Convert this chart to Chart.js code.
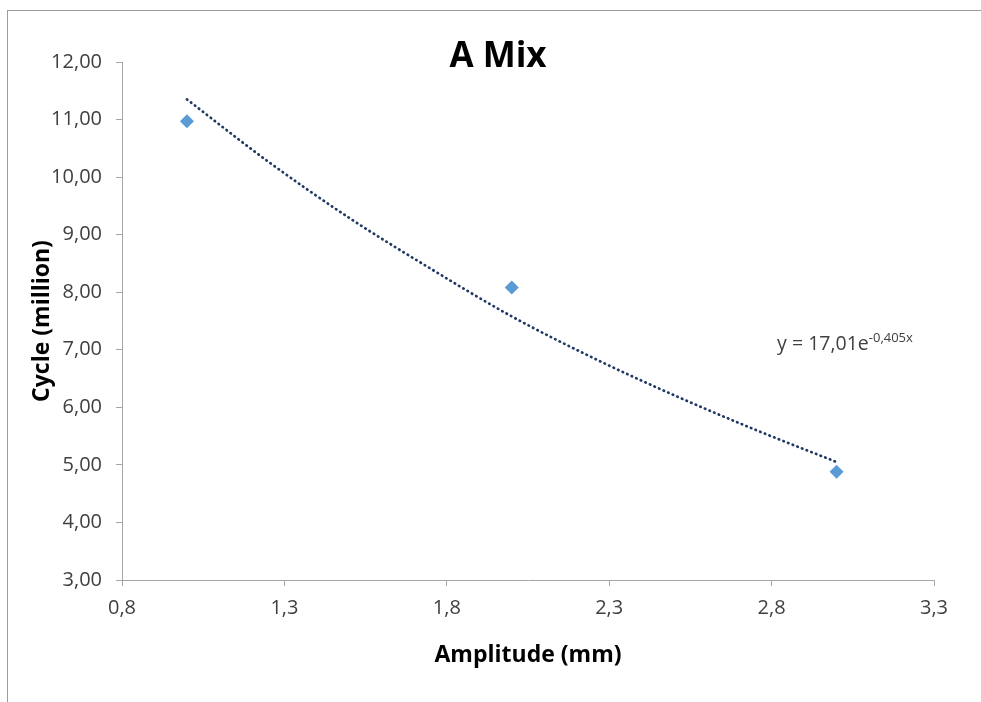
<!DOCTYPE html>
<html>
<head>
<meta charset="utf-8">
<script src="https://cdn.jsdelivr.net/npm/chart.js@4.4.1/dist/chart.umd.min.js"></script>
<style>
  html, body { margin: 0; padding: 0; background: #fff; }
  body { width: 981px; height: 702px; overflow: hidden; position: relative; }
  #frame {
    position: absolute; left: 7px; top: 10px; width: 974px; height: 692px;
    border-left: 1px solid #9c9c9c; border-top: 1px solid #9c9c9c;
  }
  #wrap { position: absolute; left: 0; top: 0; width: 973px; height: 691px; }
</style>
</head>
<body>
<div id="frame"><div id="wrap"><canvas id="chart"></canvas></div></div>
<script>
// measured points
const amplitude = [1, 2, 3];
const cycles = [10.97, 8.08, 4.88];

// exponential trendline
const trendX = [1.0, 1.25, 1.5, 1.75, 2.0, 2.25, 2.5, 2.75, 3.0];
const trendY = [11.35, 10.27, 9.29, 8.41, 7.58, 6.86, 6.21, 5.61, 5.05];

const xTicks = [0.8, 1.3, 1.8, 2.3, 2.8, 3.3];
const yTicks = [3, 4, 5, 6, 7, 8, 9, 10, 11, 12];

const chartTitle = 'A Mix';
const xTitle = 'Amplitude (mm)';
const yTitle = 'Cycle (million)';
const eqMain = 'y = 17,01e';
const eqSup = '-0,405x';

const FONT = '"Open Sans", sans-serif';
const axisColor = '#a6a6a6';
const textColor = '#404040';

const comma = (v, d) => v.toFixed(d).replace('.', ',');

const overlay = {
  id: 'overlay',
  afterDraw(chart) {
    const { ctx, scales } = chart;
    ctx.save();
    // chart title
    ctx.fillStyle = '#000';
    ctx.font = 'bold 35px ' + FONT;
    ctx.textAlign = 'center';
    ctx.textBaseline = 'alphabetic';
    ctx.fillText(chartTitle, 490, 56);
    // trendline equation
    const ex = scales.x.getPixelForValue(2.817);
    const ey = scales.y.getPixelForValue(7.0);
    ctx.fillStyle = '#404040';
    ctx.textAlign = 'left';
    ctx.font = '19.5px ' + FONT;
    ctx.fillText(eqMain, ex, ey);
    const w = ctx.measureText(eqMain).width;
    ctx.font = '13px ' + FONT;
    ctx.fillText(eqSup, ex + w, ey - 8);
    ctx.restore();
  }
};

new Chart(document.getElementById('chart'), {
  type: 'scatter',
  data: {
    datasets: [
      {
        label: 'Trend',
        data: trendX.map((x, i) => ({ x: x, y: trendY[i] })),
        showLine: true,
        borderColor: '#203864',
        borderWidth: 2.7,
        borderDash: [0.5, 4.5],
        borderCapStyle: 'round',
        cubicInterpolationMode: 'monotone',
        pointRadius: 0,
        order: 2
      },
      {
        label: 'Cycle',
        data: amplitude.map((x, i) => ({ x: x, y: cycles[i] })),
        pointStyle: 'rectRot',
        pointRadius: 7,
        backgroundColor: '#5b9bd5',
        borderColor: '#5b9bd5',
        borderWidth: 0,
        order: 1
      }
    ]
  },
  options: {
    responsive: true,
    maintainAspectRatio: false,
    animation: false,
    layout: { padding: { left: 0, top: 51, right: 47, bottom: 0 } },
    plugins: {
      legend: { display: false },
      tooltip: { enabled: false }
    },
    scales: {
      x: {
        type: 'linear',
        min: 0.8,
        max: 3.3,
        afterBuildTicks: s => { s.ticks = xTicks.map(v => ({ value: v })); },
        afterFit: s => { s.height = 122; },
        grid: { drawOnChartArea: false, drawTicks: true, tickLength: 6, color: axisColor },
        border: { display: true, color: axisColor, width: 1 },
        ticks: {
          padding: 10,
          color: textColor,
          font: { family: FONT, size: 20 },
          callback: v => comma(v, 1)
        },
        title: {
          display: true,
          text: xTitle,
          color: '#000',
          font: { family: FONT, size: 23, weight: 'bold' },
          padding: { top: 0, bottom: 33 }
        }
      },
      y: {
        type: 'linear',
        min: 3,
        max: 12,
        afterBuildTicks: s => { s.ticks = yTicks.map(v => ({ value: v })); },
        afterFit: s => { s.width = 114; },
        grid: { drawOnChartArea: false, drawTicks: true, tickLength: 6, color: axisColor },
        border: { display: true, color: axisColor, width: 1 },
        ticks: {
          padding: 14,
          color: textColor,
          font: { family: FONT, size: 20 },
          callback: v => comma(v, 2)
        },
        title: {
          display: true,
          text: yTitle,
          color: '#000',
          font: { family: FONT, size: 23, weight: 'bold' },
          padding: { top: 21, bottom: 0 }
        }
      }
    }
  },
  plugins: [overlay]
});
</script>
</body>
</html>
